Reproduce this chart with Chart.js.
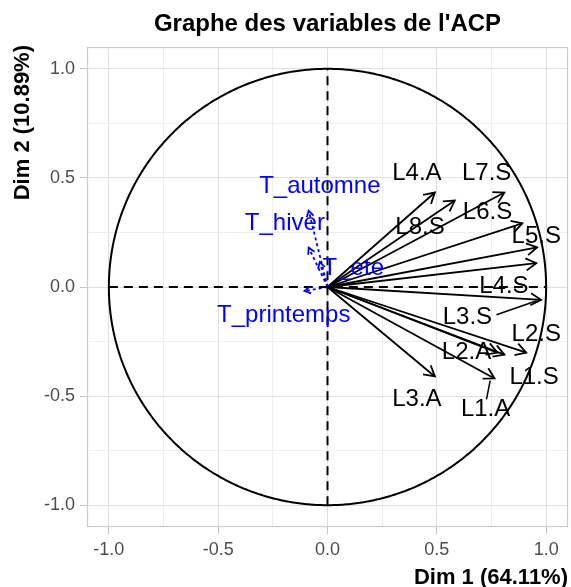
<!DOCTYPE html>
<html><head><meta charset="utf-8">
<script src="https://cdn.jsdelivr.net/npm/chart.js@4.4.0/dist/chart.umd.min.js"></script>
<style>html,body{margin:0;padding:0;background:#fff}#wrap{width:571px;height:587px}</style>
</head><body><div id="wrap"><canvas id="c" width="571" height="587"></canvas></div>
<script>
// ---- data ----
const varNames  = ['L4.A','L8.S','L7.S','L6.S','L5.S','L4.S','L3.S','L2.S','L1.S','L2.A','L1.A','L3.A'];
const dim1      = [0.491, 0.582, 0.809, 0.891, 0.959, 0.955, 0.977, 0.909, 0.809, 0.777, 0.764, 0.491];
const dim2      = [0.433, 0.396, 0.433, 0.292, 0.182, 0.109,-0.059,-0.301,-0.310,-0.301,-0.419,-0.410];
const labelDim1 = [0.409, 0.423, 0.728, 0.732, 0.955, 0.807, 0.640, 0.955, 0.945, 0.636, 0.723, 0.409];
const labelDim2 = [0.519, 0.273, 0.519, 0.342, 0.234, 0.005,-0.140,-0.217,-0.415,-0.300,-0.560,-0.515];
const supNames  = ['T_automne','T_hiver','T_ete','T_printemps'];
const supDim1   = [-0.086,-0.086,-0.036,-0.105];
const supDim2   = [ 0.350, 0.180, 0.114,-0.018];
const supLabelDim1 = [-0.035,-0.195, 0.118,-0.200];
const supLabelDim2 = [ 0.460, 0.292, 0.087,-0.128];
const repelNames = ['L3.S','L1.A'];
const repelFrom1 = [0.773, 0.727];
const repelFrom2 = [-0.127,-0.515];
const majorTicks = [-1,-0.5,0,0.5,1];
const minorTicks = [-0.75,-0.25,0.25,0.75];
const titleText = "Graphe des variables de l'ACP";
const xTitle = 'Dim 1 (64.11%)';
const yTitle = 'Dim 2 (10.89%)';

const FONT = "'Liberation Sans', Arial, sans-serif";
const datasets = [];
// reference dashed axes
datasets.push({data:[{x:-1,y:0},{x:1,y:0}], borderColor:'#000', borderWidth:2, borderDash:[9,6], showLine:true, pointRadius:0});
datasets.push({data:[{x:0,y:-1},{x:0,y:1}], borderColor:'#000', borderWidth:2, borderDash:[9,6], showLine:true, pointRadius:0});
// correlation circle (unit circle geometry)
const circ = [];
for (let a = 0; a <= 360; a += 1) circ.push({x:Math.cos(a*Math.PI/180), y:Math.sin(a*Math.PI/180)});
datasets.push({data:circ, borderColor:'#000', borderWidth:2, showLine:true, pointRadius:0, tension:0.0001});
// supplementary variables
supNames.forEach((n,i)=>{
  datasets.push({data:[{x:0,y:0},{x:supDim1[i],y:supDim2[i]}], borderColor:'#0000ff', borderWidth:1.8, borderDash:[3,3], showLine:true, pointRadius:0, arrowHead:7});
});
// active variables
varNames.forEach((n,i)=>{
  datasets.push({data:[{x:0,y:0},{x:dim1[i],y:dim2[i]}], borderColor:'#000', borderWidth:1.8, showLine:true, pointRadius:0, arrowHead:12});
});
// repel segments
repelNames.forEach((n,i)=>{
  const k = varNames.indexOf(n);
  datasets.push({data:[{x:repelFrom1[i],y:repelFrom2[i]},{x:dim1[k]-0.02*Math.sign(dim1[k]),y:dim2[k]+(dim2[k]<-0.2?-0.01:-0.004)}], borderColor:'#000', borderWidth:1.5, showLine:true, pointRadius:0});
});

const decor = {
  id:'decor',
  beforeDatasetsDraw(chart){
    const {ctx, chartArea:a} = chart;
    ctx.save();
    ctx.strokeStyle = '#cccccc'; ctx.lineWidth = 1.2;
    ctx.strokeRect(a.left+0.5, a.top+0.5, a.right-a.left-1, a.bottom-a.top-1);
    ctx.restore();
  },
  afterDatasetsDraw(chart){
    const {ctx, chartArea:a, scales} = chart;
    ctx.save();
    // arrowheads
    chart.data.datasets.forEach((ds,i)=>{
      if (!ds.arrowHead) return;
      const m = chart.getDatasetMeta(i);
      const p0 = m.data[0], p1 = m.data[m.data.length-1];
      const ang = Math.atan2(p1.y-p0.y, p1.x-p0.x);
      const L = ds.arrowHead, s = Math.PI/6;
      ctx.strokeStyle = ds.borderColor; ctx.lineWidth = ds.borderWidth; ctx.setLineDash([]);
      ctx.beginPath();
      ctx.moveTo(p1.x - L*Math.cos(ang-s), p1.y - L*Math.sin(ang-s));
      ctx.lineTo(p1.x, p1.y);
      ctx.lineTo(p1.x - L*Math.cos(ang+s), p1.y - L*Math.sin(ang+s));
      ctx.stroke();
    });
    // labels
    ctx.font = '24px ' + FONT;
    ctx.textAlign = 'center'; ctx.textBaseline = 'middle';
    ctx.fillStyle = '#000';
    varNames.forEach((n,i)=>{
      ctx.fillText(n, scales.x.getPixelForValue(labelDim1[i]), scales.y.getPixelForValue(labelDim2[i]));
    });
    ctx.fillStyle = '#0000ff';
    supNames.forEach((n,i)=>{
      ctx.fillText(n, scales.x.getPixelForValue(supLabelDim1[i]), scales.y.getPixelForValue(supLabelDim2[i]));
    });
    // titles
    ctx.fillStyle = '#000';
    ctx.textBaseline = 'alphabetic';
    ctx.font = 'bold 24px ' + FONT;
    ctx.fillText(titleText, (a.left+a.right)/2, 31);
    ctx.font = 'bold 22px ' + FONT;
    ctx.textAlign = 'right';
    ctx.fillText(xTitle, a.right, 584);
    ctx.translate(29, a.top-2);
    ctx.rotate(-Math.PI/2);
    ctx.fillText(yTitle, 0, 0);
    ctx.restore();
  }
};

function axisOpts(){
  return {
    type:'linear', min:-1.1, max:1.1,
    afterBuildTicks(scale){ scale.ticks = majorTicks.concat(minorTicks).sort((p,q)=>p-q).map(v=>({value:v})); },
    ticks:{
      color:'#4d4d4d', font:{family:FONT, size:18}, padding:5, autoSkip:false, maxRotation:0,
      callback(v){ return majorTicks.includes(v) ? v.toFixed(1) : ''; }
    },
    grid:{
      color(ctx){ return (ctx.tick && majorTicks.includes(ctx.tick.value)) ? '#e0e0e0' : '#eeeeee'; },
      tickColor(ctx){ return (ctx.tick && majorTicks.includes(ctx.tick.value)) ? '#c4c4c4' : 'rgba(0,0,0,0)'; },
      tickLength:7, lineWidth:1
    },
    border:{display:false},
    title:{display:false}
  };
}
const xs = axisOpts(); xs.position = 'bottom'; xs.afterFit = s => { s.height = 60; };
const ys = axisOpts(); ys.position = 'left'; ys.afterFit = s => { s.width = 87; };

new Chart(document.getElementById('c'), {
  type:'scatter',
  data:{datasets},
  options:{
    responsive:false, animation:false, devicePixelRatio:1,
    layout:{padding:{top:47, right:3, left:0, bottom:0}},
    plugins:{legend:{display:false}, tooltip:{enabled:false}, title:{display:false}},
    scales:{x:xs, y:ys}
  },
  plugins:[decor]
});
</script></body></html>
